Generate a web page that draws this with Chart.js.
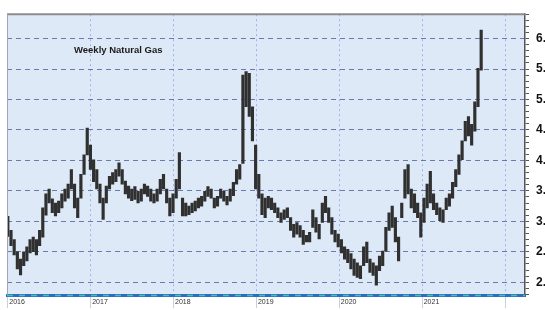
<!DOCTYPE html>
<html><head><meta charset="utf-8">
<script src="https://cdn.jsdelivr.net/npm/chart.js@4.4.1/dist/chart.umd.min.js"></script>
<style>html,body{margin:0;padding:0;background:#fff;}#wrap{width:545px;height:310px;}</style>
</head><body><div id="wrap"><canvas id="c" width="545" height="310"></canvas></div>
<script>
const chartTitle = 'Weekly Natural Gas';
const startYear = 2016.0;
const stepYears = 14 / 365.25; // one bar per two weeks
const highs = [3.08,2.85,2.70,2.50,2.38,2.50,2.58,2.70,2.74,2.70,
2.85,3.22,3.45,3.53,3.37,3.30,3.33,3.45,3.53,3.61,
3.85,3.61,3.38,3.77,4.09,4.53,4.25,4.01,3.85,3.61,
3.38,3.58,3.74,3.80,3.85,3.96,3.85,3.66,3.58,3.53,
3.57,3.49,3.53,3.61,3.58,3.53,3.45,3.53,3.69,3.77,
3.53,3.38,3.45,3.69,4.13,3.38,3.30,3.25,3.30,3.33,
3.38,3.41,3.49,3.57,3.53,3.38,3.41,3.53,3.49,3.41,
3.53,3.64,3.85,3.93,5.40,5.46,5.43,4.88,4.25,3.77,
3.45,3.38,3.41,3.38,3.30,3.22,3.14,3.19,3.22,3.06,
2.95,2.98,2.93,2.85,2.77,2.82,3.19,3.06,2.95,3.30,
3.41,3.22,3.06,2.85,2.79,2.70,2.58,2.54,2.47,2.38,
2.32,2.27,2.58,2.66,2.38,2.32,2.27,2.43,2.51,2.90,
3.14,3.25,3.06,2.74,3.30,3.85,3.93,3.53,3.45,3.30,
3.14,3.38,3.61,3.82,3.45,3.30,3.22,3.19,3.38,3.45,
3.64,3.85,4.09,4.32,4.64,4.72,4.59,4.96,5.51,6.14];
const lows = [2.75,2.60,2.45,2.22,2.12,2.27,2.35,2.48,2.50,2.45,
2.60,2.74,3.10,3.30,3.14,3.09,3.14,3.22,3.33,3.38,
3.53,3.22,3.06,3.38,3.77,4.09,3.85,3.65,3.53,3.30,
3.03,3.30,3.53,3.61,3.65,3.74,3.61,3.45,3.38,3.34,
3.36,3.30,3.33,3.45,3.41,3.33,3.30,3.33,3.45,3.53,
3.30,3.09,3.14,3.38,3.53,3.09,3.09,3.11,3.14,3.17,
3.22,3.25,3.33,3.41,3.38,3.22,3.25,3.38,3.33,3.27,
3.33,3.42,3.61,3.69,3.95,4.88,4.72,4.32,3.53,3.38,
3.11,3.06,3.22,3.19,3.14,3.06,2.98,3.03,3.06,2.85,
2.74,2.79,2.74,2.62,2.66,2.66,2.90,2.82,2.71,2.98,
3.14,2.98,2.79,2.66,2.58,2.48,2.38,2.32,2.22,2.11,
2.08,2.06,2.27,2.32,2.16,2.11,1.95,2.19,2.27,2.51,
2.85,2.90,2.66,2.35,3.06,3.38,3.45,3.22,3.14,3.06,
2.74,2.98,3.22,3.30,3.19,3.11,3.01,2.98,3.19,3.25,
3.38,3.57,3.77,4.01,4.32,4.40,4.25,4.48,4.88,5.48];
const xTickYears = [2016,2017,2018,2019,2020,2021,2022];
const xTickLabels = ['2016','2017','2018','2019','2020','2021',''];
const yTickValues = [2.0,2.5,3.0,3.5,4.0,4.5,5.0,5.5,6.0];
const yTickLabels = ['2.0','2.5','3.0','3.5','4.0','4.5','5.0','5.5','6.0'];

const points = highs.map((h, i) => ({x: startYear + i * stepYears, y: [lows[i], h]}));
const isMajor = v => yTickValues.some(t => Math.abs(t - v) < 1e-6);

const deco = {
  id: 'deco',
  beforeDraw(chart) {
    const {ctx, chartArea: a} = chart;
    ctx.save();
    ctx.fillStyle = '#dde9f6';
    ctx.fillRect(a.left, a.top, a.right - a.left, a.bottom - a.top);
    ctx.restore();
  },
  afterDraw(chart) {
    const {ctx, chartArea: a} = chart;
    ctx.save();
    ctx.strokeStyle = '#8c8c8c';
    ctx.lineWidth = 2;
    ctx.beginPath(); ctx.moveTo(a.left, a.top); ctx.lineTo(a.right, a.top); ctx.stroke();
    ctx.lineWidth = 1;
    ctx.strokeStyle = '#a0a8b4';
    ctx.beginPath(); ctx.moveTo(a.left + 0.5, a.top); ctx.lineTo(a.left + 0.5, a.bottom); ctx.stroke();
    ctx.strokeStyle = '#3cc4b4';
    ctx.lineWidth = 1.5;
    ctx.setLineDash([6, 6]);
    ctx.beginPath(); ctx.moveTo(a.left, a.bottom + 0.5); ctx.lineTo(a.right, a.bottom + 0.5); ctx.stroke();
    ctx.setLineDash([]);
    ctx.fillStyle = '#1a1a1a';
    ctx.font = 'bold 9.5px "Liberation Sans", Arial, sans-serif';
    ctx.textBaseline = 'middle';
    ctx.fillText(chartTitle, a.left + 67, a.top + 36);
    ctx.restore();
  }
};

new Chart(document.getElementById('c'), {
  type: 'bar',
  data: {datasets: [{data: points, backgroundColor: '#303030', borderWidth: 0, barThickness: 2.5}]},
  options: {
    responsive: false, animation: false,
    layout: {padding: {left: 7, top: 4, right: 0, bottom: 0}},
    plugins: {legend: {display: false}, tooltip: {enabled: false}},
    scales: {
      x: {
        type: 'linear', min: 2015.99, max: 2022.24, offset: false,
        afterBuildTicks: a => { a.ticks = xTickYears.map(v => ({value: v})); },
        afterFit: a => { a.height = 15; },
        grid: {offset: false, color: 'rgba(110,130,225,0.55)', tickColor: 'rgba(150,160,190,0.5)', tickLength: 13, lineWidth: 1},
        border: {display: true, color: '#2f6cc0', width: 3, dash: [2, 3]},
        ticks: {align: 'start', padding: -10, labelOffset: 1.5, autoSkip: false, maxRotation: 0,
          color: '#333', font: {size: 7, family: '"Liberation Sans", Arial, sans-serif'},
          callback: (v, i) => xTickLabels[i]}
      },
      y: {
        position: 'right', min: 1.79, max: 6.40,
        afterBuildTicks: a => { const t = []; for (let k = 18; k <= 64; k++) t.push({value: k / 10}); a.ticks = t; },
        afterFit: a => { a.width = 20; },
        grid: {color: c => isMajor(c.tick.value) ? 'rgba(60,75,145,0.7)' : 'rgba(0,0,0,0)', tickColor: '#555', tickLength: 4, lineWidth: 1},
        border: {display: true, color: '#555', width: 1.5, dash: [5, 4]},
        ticks: {autoSkip: false, padding: 7, color: '#111',
          font: {size: 12, weight: 'bold', family: '"Liberation Sans", Arial, sans-serif'},
          callback: v => { const k = yTickValues.findIndex(t => Math.abs(t - v) < 1e-6); return k >= 0 ? yTickLabels[k] : ''; }}
      }
    }
  },
  plugins: [deco]
});
</script></body></html>
